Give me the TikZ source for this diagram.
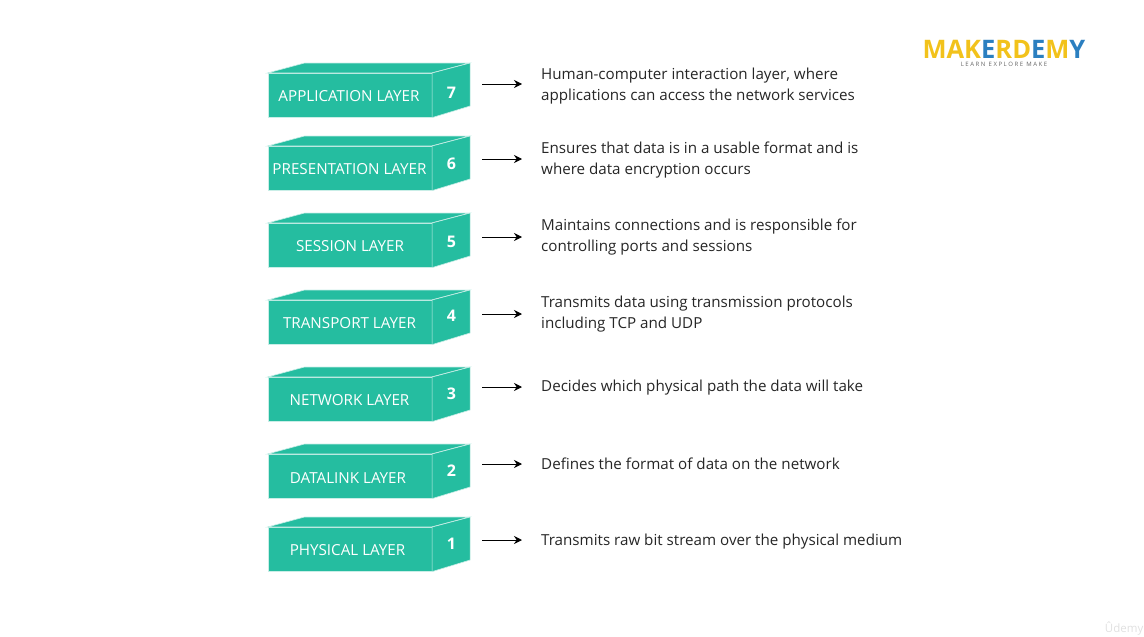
\documentclass[tikz,border=0pt]{standalone}
\usepackage{fontspec}
\setmainfont{Open Sans}
\usepackage{tikz}
\usetikzlibrary{arrows.meta}
\definecolor{layergreen}{HTML}{25BDA0}
\definecolor{logoyellow}{HTML}{F2C21B}
\definecolor{logoblue}{HTML}{2B7FC0}
\tikzset{
    layerface/.style={fill=layergreen, draw=white!75!layergreen, line width=0.6pt},
    layerfront/.style={layerface, minimum width=164pt, minimum height=44pt, inner sep=0pt, anchor=north west},
    layername/.style={text=white, font=\fontsize{15.2}{18}\selectfont, inner sep=0pt},
    layernum/.style={text=white, font=\fontsize{16}{18}\selectfont\bfseries, inner sep=0pt},
    desc/.style={text=black!85, font=\fontsize{15.17}{21}\selectfont, align=left, anchor=west, inner sep=0pt},
    arr/.style={-{Stealth[length=8pt,width=8pt]}, line width=1pt, black}
}
\begin{document}
\begin{tikzpicture}[x=1pt, y=-1pt]
    \useasboundingbox (0,0) rectangle (1144,637);
    % top y of the front / name x,y / number y / arrow y / text y
    \foreach \id/\top/\namex/\namey/\name/\numy/\arry/\texty/\txt in {
        7/73/349/96/APPLICATION LAYER/93/84/86.5/{Human-computer interaction layer, where\\applications can access the network services},
        6/146/349.5/169/PRESENTATION LAYER/164/159/160.5/{Ensures that data is in a usable format and is\\where data encryption occurs},
        5/223/350/246/SESSION LAYER/242/237/237.5/{Maintains connections and is responsible for\\controlling ports and sessions},
        4/300/349.5/323/TRANSPORT LAYER/316/314/314.5/{Transmits data using transmission protocols\\including TCP and UDP},
        3/377/349.5/400/NETWORK LAYER/394/387/388/{Decides which physical path the data will take},
        2/454/348/478/DATALINK LAYER/471/464/464/{Defines the format of data on the network},
        1/527/347.5/550/PHYSICAL LAYER/544/540/541.5/{Transmits raw bit stream over the physical medium}
    } {
        \node[layerfront] (front\id) at (267.5,\top) {};
        \draw[layerface] (front\id.north west) -- ++(37,-10) -- ++(165,0) -- ++(-38,10) -- cycle;
        \draw[layerface] (front\id.north east) -- ++(38,-10) -- ++(0,43) -- (front\id.south east) -- cycle;
        \node[layername] (name\id) at (\namex,\namey) {\name};
        \node[layernum] (num\id) at (451.5,\numy) {\id};
        \coordinate (from\id) at (482,\arry);
        \coordinate (to\id) at (522,\arry);
        \draw[arr] (from\id) -- (to\id);
        \node[desc] (desc\id) at (541,\texty) {\txt};
    }
    % logo
    \node[inner sep=0pt, text height=18pt, text depth=0pt, font=\fontsize{25.5}{26}\selectfont\bfseries, text=logoyellow] (logo) at (1004,49.5)
        {MAK\textcolor{logoblue}{E}RD\textcolor{logoblue}{E}M\textcolor{logoblue}{Y}};
    \node[inner sep=0pt, text height=4.5pt, text depth=0pt, font=\fontsize{6}{6}\selectfont, text=black!60] (tagline) at (1004,64)
        {L E A R N \ E X P L O R E \ M A K E};
    % watermark
    \node[inner sep=0pt, font=\fontsize{11.5}{14}\selectfont, text=black!12, anchor=east] (udemy) at (1143.5,629) {Ûdemy};
\end{tikzpicture}
\end{document}
